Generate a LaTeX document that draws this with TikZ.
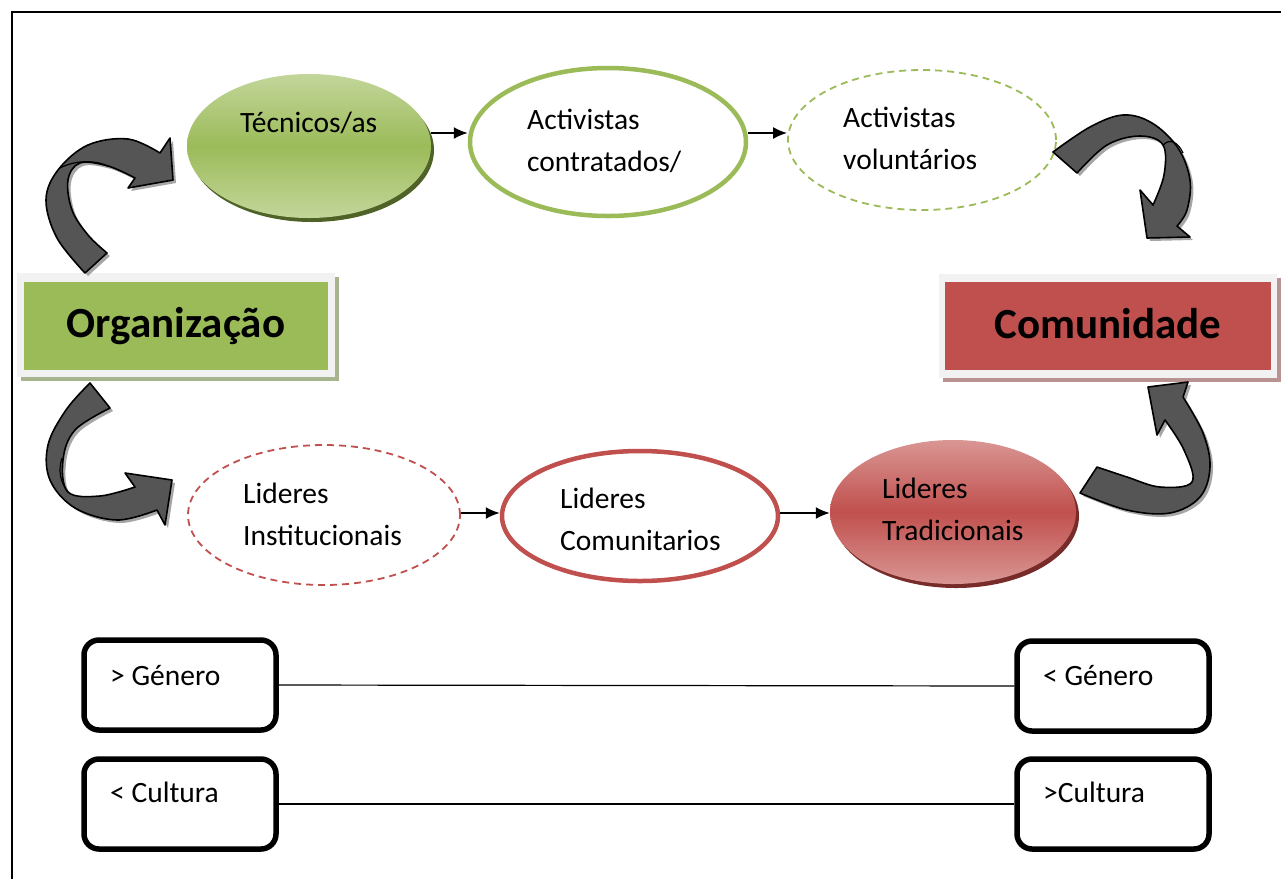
\documentclass[tikz,border=0pt]{standalone}
\usepackage{fontspec}
\setmainfont{Carlito}
\usetikzlibrary{shapes.geometric,arrows.meta}
\definecolor{ogreen}{HTML}{9BBB59}
\definecolor{lgreen}{HTML}{C3D69B}
\definecolor{dgreen}{HTML}{4F6228}
\definecolor{ored}{HTML}{C0504D}
\definecolor{lred}{HTML}{D99694}
\definecolor{dred}{HTML}{772C2A}
\definecolor{boxgray}{HTML}{F2F2F2}
\definecolor{gshadow}{HTML}{A7B48E}
\definecolor{rshadow}{HTML}{B99391}
\definecolor{agray}{HTML}{555555}
\begin{document}
\begin{tikzpicture}[x=1pt,y=-1pt,
  lbl/.style={font=\fontsize{29.5}{42}\selectfont, align=left, anchor=west, inner sep=0pt},
  oval/.style={ellipse, inner sep=0pt},
  flow/.style={line width=1.8pt, -{Latex[length=14pt,width=12pt]}},
  bandarrow/.style={fill=agray, draw=black, line width=1.6pt, line join=round},
  bandshadow/.style={fill=black!35, shift={(3,3)}},
  roundbox/.style={draw=black, line width=5.5pt, rounded corners=15pt, minimum width=192pt, minimum height=90pt, inner sep=0pt},
  bigbox/.style={inner sep=0pt, font=\fontsize{43}{46}\selectfont\bfseries}
]
\useasboundingbox (0,0) rectangle (1281,879);
% frame
\draw[line width=2pt] (12,879) -- (12,12) -- (1281,12);

% ---------- top row ----------
\node[oval, fill=dgreen, minimum width=244pt, minimum height=144pt] (tecsh) at (312,150) {};
\node[oval, top color=lgreen, bottom color=lgreen, middle color=ogreen, minimum width=244pt, minimum height=144pt] (tec) at (309,146) {};
\node[lbl] (tect) at (240,123) {Técnicos/as};

\node[oval, draw=ogreen, line width=4.5pt, fill=white, minimum width=276pt, minimum height=148pt] (act) at (608,142) {};
\node[lbl] (actt) at (527,141) {Activistas\\contratados/};

\node[oval, draw=ogreen, line width=1.8pt, dash pattern=on 7pt off 5pt, minimum width=268pt, minimum height=140pt] (vol) at (922,140) {};
\node[lbl] (volt) at (843,138) {Activistas\\voluntários};

\draw[flow] ([yshift=13pt]tec.east) -- ([yshift=13pt]tec.east -| act.west);
\draw[flow] ([yshift=9pt]act.east) -- ([yshift=9pt]act.east -| vol.west);

% ---------- side boxes ----------
\node[fill=gshadow, minimum width=318pt, minimum height=104pt, inner sep=0pt] (orgsh) at (180,329) {};
\node[fill=boxgray, minimum width=318pt, minimum height=104pt, inner sep=0pt] (orgout) at (176,325) {};
\node[fill=ogreen, minimum width=304pt, minimum height=88pt, bigbox] (org) at (176,326) {\raisebox{5pt}{Organização}};

\node[fill=rshadow, minimum width=338pt, minimum height=104pt, inner sep=0pt] (comsh) at (1112,330) {};
\node[fill=boxgray, minimum width=338pt, minimum height=104pt, inner sep=0pt] (comout) at (1108,326) {};
\node[fill=ored, minimum width=326pt, minimum height=88pt, bigbox] (com) at (1108,326) {\raisebox{5pt}{Comunidade}};

% ---------- bottom row ----------
\node[oval, draw=ored, line width=1.8pt, dash pattern=on 7pt off 5pt, minimum width=272pt, minimum height=140pt] (ins) at (324,515) {};
\node[lbl] (inst) at (243,514) {Lideres\\Institucionais};

\node[oval, draw=ored, line width=4.5pt, fill=white, minimum width=276pt, minimum height=130pt] (cmt) at (640,516) {};
\node[lbl] (cmtt) at (560,519) {Lideres\\Comunitarios};

\node[oval, fill=dred, minimum width=246pt, minimum height=144pt] (trash) at (956,516) {};
\node[oval, top color=lred, bottom color=lred, middle color=ored, minimum width=246pt, minimum height=144pt] (tra) at (953,512) {};
\node[lbl] (trat) at (882,509) {Lideres\\Tradicionais};

\draw[flow] ([yshift=2pt]ins.east) -- ([yshift=2pt]ins.east -| cmt.west);
\draw[flow] ([yshift=3pt]cmt.east) -- ([yshift=3pt]cmt.east -| tra.west);

% ---------- curved block arrows ----------
% top-left
\foreach \st in {bandshadow,bandarrow}{
\path[\st] plot[smooth, tension=0.6] coordinates {(85,273) (57,238) (46,200) (58,170) (88,145) (128,139) (160,153)}
  -- (170,138) -- (173,180) -- (128,188) -- (135,178)
  -- plot[smooth, tension=0.6] coordinates {(135,178) (108,166) (80,163) (68,180) (72,210) (88,235) (107,253)} -- cycle;
}
\draw[line width=1.2pt] (60,168) .. controls (75,160) and (95,160) .. (108,166);
% top-right
\foreach \st in {bandshadow,bandarrow}{
\path[\st] plot[smooth, tension=0.6] coordinates {(1053,152) (1090,127) (1123,115) (1152,123) (1178,148) (1190,180) (1187,210) (1177,226)}
  -- (1190,237) -- (1147,238) -- (1140,190) -- (1153,205)
  -- plot[smooth, tension=0.6] coordinates {(1153,205) (1164,175) (1163,145) (1140,136) (1107,145) (1077,173)} -- cycle;
}
\draw[line width=1.2pt] (1163,145) .. controls (1170,138) and (1178,142) .. (1183,153);
% bottom-left
\foreach \st in {bandshadow,bandarrow}{
\path[\st] plot[smooth, tension=0.6] coordinates {(90,383) (66,410) (48,445) (50,480) (75,508) (117,520) (157,510)}
  -- (165,525) -- (172,480) -- (125,473) -- (135,487)
  -- plot[smooth, tension=0.6] coordinates {(135,487) (100,496) (68,492) (63,460) (75,430) (110,408)} -- cycle;
}
\draw[line width=1.2pt] (68,492) .. controls (60,482) and (58,470) .. (62,458);
% bottom-right
\foreach \st in {bandshadow,bandarrow}{
\path[\st] plot[smooth, tension=0.6] coordinates {(1080,493) (1127,510) (1170,513) (1200,497) (1210,467) (1203,433) (1183,397)}
  -- (1188,382) -- (1148,387) -- (1157,435) -- (1165,420)
  -- plot[smooth, tension=0.6] coordinates {(1165,420) (1184,450) (1192,482) (1160,487) (1127,477) (1097,467)} -- cycle;
}

% ---------- bottom boxes ----------
\node[roundbox] (g1) at (180,685) {};
\node[roundbox] (g2) at (1113,686) {};
\node[roundbox] (c1) at (180,804) {};
\node[roundbox] (c2) at (1113,804) {};
\node[lbl] (g1t) at (110,676) {> Género};
\node[lbl] (g2t) at (1043,676) {< Género};
\node[lbl] (c1t) at (110,792) {< Cultura};
\node[lbl] (c2t) at (1043,792) {>Cultura};
\draw[line width=1.2pt] (g1.east) -- (g2.west);
\draw[line width=1.2pt] (c1.east) -- (c2.west);
\end{tikzpicture}
\end{document}
